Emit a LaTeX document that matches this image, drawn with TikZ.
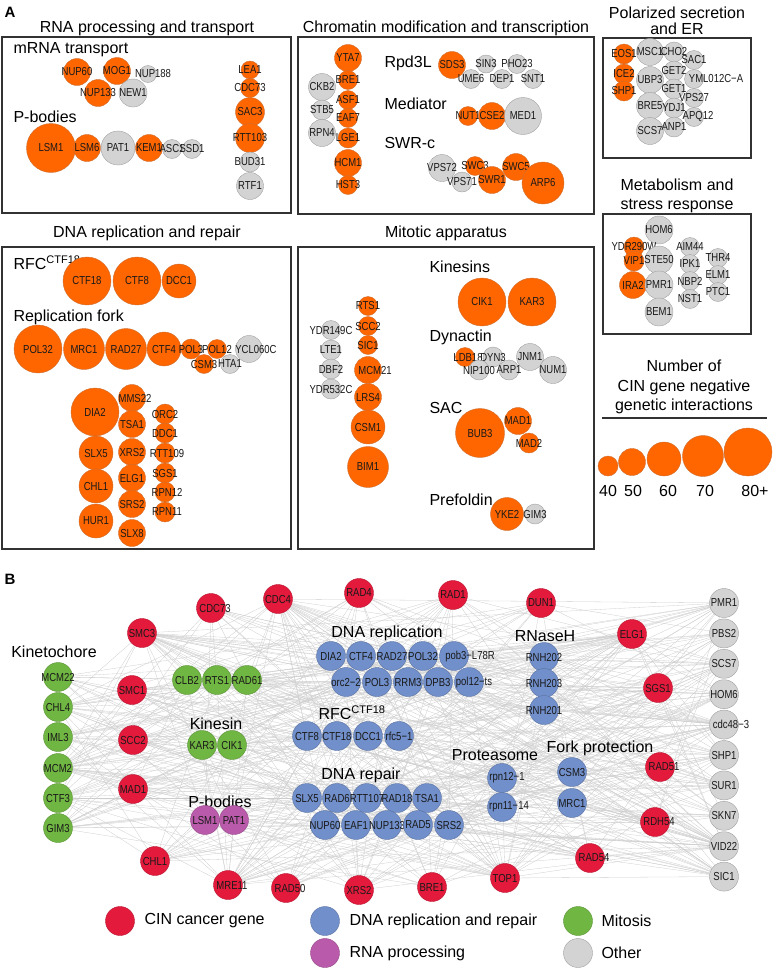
\documentclass[tikz,border=0pt]{standalone}
\usepackage{fontspec}
\setmainfont{Liberation Sans}
\newfontfamily\genefont[FakeStretch=0.82]{Liberation Sans}

\pgfdeclarelayer{bg}
\pgfsetlayers{bg,main}

\definecolor{geneorange}{RGB}{255,102,0}
\definecolor{orangeedge}{RGB}{205,110,50}
\definecolor{genegrey}{RGB}{211,211,211}
\definecolor{greyedge}{RGB}{160,160,160}
\definecolor{cinred}{RGB}{228,26,60}
\definecolor{dnablue}{RGB}{113,143,202}
\definecolor{mitgreen}{RGB}{112,182,66}
\definecolor{rnapink}{RGB}{186,90,170}
\definecolor{boxgrey}{RGB}{50,50,50}
\definecolor{linkgrey}{RGB}{205,205,205}

% text slid sideways
\newcommand{\lblshift}[2]{\hspace*{#1}#2}

\tikzset{
	% labels sit in a zero-width box so the circle keeps its size
	gene/.style={circle, inner sep=0pt, line width=0.4pt, text=black!90, font=\genefont\fontsize{11.6}{11.6}\selectfont,
		execute at begin node={\hbox to 0pt\bgroup\hss}, execute at end node={\hss\egroup}},
	ora/.style={gene, fill=geneorange, draw=orangeedge},
	gry/.style={gene, fill=genegrey, draw=greyedge},
	bnode/.style={gene, minimum size=29},
	cin/.style={bnode, fill=cinred, draw=cinred!80!black},
	dna/.style={bnode, fill=dnablue, draw=dnablue!80!black},
	mit/.style={bnode, fill=mitgreen, draw=mitgreen!80!black},
	rnap/.style={bnode, fill=rnapink, draw=rnapink!80!black},
	oth/.style={bnode, fill=genegrey, draw=greyedge},
	link/.style={draw=linkgrey, line width=0.3pt},
	box/.style={draw=boxgrey, line width=1.2pt},
	ttl/.style={font=\fontsize{16}{18}\selectfont},
}

\begin{document}
\begin{tikzpicture}[x=1pt, y=-1pt]
	\useasboundingbox (0,0) rectangle (774,970);
	% Panel letters
	\node[anchor=west, font=\bfseries\fontsize{15}{15}\selectfont] (pana) at (1,12) {A};
	\node[anchor=west, font=\bfseries\fontsize{15}{15}\selectfont] (panb) at (1,579) {B};

	% ---------- RNA processing and transport
	\node[ttl] (rnattl) at (147,28) {RNA processing and transport};
	\draw[box] (2,37) rectangle (291,213);
	\node[ttl, anchor=west] (mrnalbl) at (10,50) {mRNA transport};
	\node[ora, minimum size=27] (nup60) at (77,72) {NUP60};
	\node[ora, minimum size=27] (mog1) at (117,71) {MOG1};
	\node[gry, minimum size=17] (nup188) at (148,74) {\lblshift{10pt}{NUP188}};
	\node[ora, minimum size=27] (nup133) at (98,93) {NUP133};
	\node[gry, minimum size=28] (new1) at (133,93) {NEW1};
	\node[ttl, anchor=west] (pbodlbl) at (10,117) {P-bodies};
	\node[ora, minimum size=49] (lsm1) at (51,148) {LSM1};
	\node[ora, minimum size=27] (lsm6) at (87,148) {LSM6};
	\node[gry, minimum size=34] (pat1) at (118,148) {PAT1};
	\node[ora, minimum size=27] (kem1) at (149,148) {KEM1};
	\node[gry, minimum size=19] (asc1) at (172,149) {ASC1};
	\node[gry, minimum size=19] (ssd1) at (192,149) {SSD1};
	\node[ora, minimum size=18] (lea1) at (250,70) {LEA1};
	\node[ora, minimum size=19] (cdc73) at (250,88) {CDC73};
	\node[ora, minimum size=29] (sac3) at (250,112) {SAC3};
	\node[ora, minimum size=29] (rtt103) at (250,138) {RTT103};
	\node[gry, minimum size=20] (bud31) at (250,162) {BUD31};
	\node[gry, minimum size=27] (rtf1) at (250,186) {RTF1};

	% ---------- Chromatin modification and transcription
	\node[ttl] (chrttl) at (446,28) {Chromatin modification and transcription};
	\draw[box] (298,37) rectangle (594,214);
	\node[ora, minimum size=27] (yta7) at (348,58) {YTA7};
	\node[ora, minimum size=19] (bre1) at (348,80) {BRE1};
	\node[ora, minimum size=19] (asf1) at (348,100) {ASF1};
	\node[ora, minimum size=19] (eaf7) at (348,118) {EAF7};
	\node[ora, minimum size=20] (lge1) at (348,138) {LGE1};
	\node[ora, minimum size=27] (hcm1) at (348,163) {HCM1};
	\node[ora, minimum size=19] (hst3) at (348,185) {HST3};
	\node[gry, minimum size=27] (ckb2) at (322,87) {CKB2};
	\node[gry, minimum size=20] (stb5) at (322,110) {STB5};
	\node[gry, minimum size=27] (rpn4) at (322,133) {RPN4};
	\node[ttl, anchor=west] (rpdlbl) at (381,63) {Rpd3L};
	\node[ora, minimum size=27] (sds3) at (452,65) {SDS3};
	\node[gry, minimum size=18] (sin3) at (486,64) {SIN3};
	\node[gry, minimum size=19] (pho23) at (517,64) {PHO23};
	\node[gry, minimum size=19] (ume6) at (471,79) {UME6};
	\node[gry, minimum size=19] (dep1) at (502,79) {DEP1};
	\node[gry, minimum size=19] (snt1) at (533,79) {SNT1};
	\node[ttl, anchor=west] (medlbl) at (381,104) {Mediator};
	\node[ora, minimum size=19] (nut1) at (468,116) {NUT1};
	\node[ora, minimum size=27] (cse2) at (492,116) {CSE2};
	\node[gry, minimum size=37] (med1) at (523,116) {MED1};
	\node[ttl, anchor=west] (swrlbl) at (381,143) {SWR-c};
	\node[gry, minimum size=27] (vps72) at (442,168) {VPS72};
	\node[gry, minimum size=20] (vps71) at (462,182) {VPS71};
	\node[ora, minimum size=19] (swc3) at (475,166) {SWC3};
	\node[ora, minimum size=27] (swr1) at (492,180) {SWR1};
	\node[ora, minimum size=27] (swc5) at (516,167) {SWC5};
	\node[ora, minimum size=42] (arp6) at (543,183) {ARP6};

	% ---------- Polarized secretion and ER
	\node[ttl, align=center, font=\fontsize{16}{16}\selectfont] (polttl) at (677,21) {Polarized secretion\\and ER};
	\draw[box] (603,38) rectangle (751,158);
	\node[ora, minimum size=20] (eos1) at (624,54) {EOS1};
	\node[ora, minimum size=20] (ice2) at (624,74) {ICE2};
	\node[ora, minimum size=20] (shp1) at (624,91) {SHP1};
	\node[gry, minimum size=27] (msc1) at (650,52) {MSC1};
	\node[gry, minimum size=27] (ubp3) at (650,80) {UBP3};
	\node[gry, minimum size=27] (bre5) at (650,106) {BRE5};
	\node[gry, minimum size=27] (scs7) at (650,131) {SCS7};
	\node[gry, minimum size=20] (cho2) at (674,52) {CHO2};
	\node[gry, minimum size=20] (get2) at (674,71) {GET2};
	\node[gry, minimum size=20] (get1) at (674,89) {GET1};
	\node[gry, minimum size=20] (ydj1) at (674,108) {YDJ1};
	\node[gry, minimum size=20] (anp1) at (674,127) {ANP1};
	\node[gry, minimum size=19] (sac1) at (694,60) {SAC1};
	\node[gry, minimum size=19] (yml012c) at (694,79) {\lblshift{44pt}{YML012C−A}};
	\node[gry, minimum size=19] (vps27) at (694,98) {VPS27};
	\node[gry, minimum size=19] (apq12) at (694,117) {\lblshift{8pt}{APQ12}};

	% ---------- Metabolism and stress response
	\node[ttl, align=center, font=\fontsize{16}{19}\selectfont] (metttl) at (677,196) {Metabolism and\\stress response};
	\draw[box] (603,214) rectangle (751,334);
	\node[gry, minimum size=28] (hom6) at (659,230) {HOM6};
	\node[ora, minimum size=20] (ydr290w) at (634,247) {YDR290W};
	\node[gry, minimum size=28] (ste50) at (659,260) {STE50};
	\node[ora, minimum size=20] (vip1) at (634,261) {VIP1};
	\node[ora, minimum size=27] (ira2) at (633,285) {IRA2};
	\node[gry, minimum size=28] (pmr1) at (659,285) {PMR1};
	\node[gry, minimum size=28] (bem1) at (659,312) {BEM1};
	\node[gry, minimum size=19] (aim44) at (690,247) {AIM44};
	\node[gry, minimum size=19] (ipk1) at (690,264) {IPK1};
	\node[gry, minimum size=19] (nbp2) at (690,281) {NBP2};
	\node[gry, minimum size=19] (nst1) at (690,299) {NST1};
	\node[gry, minimum size=19] (thr4) at (718,258) {THR4};
	\node[gry, minimum size=19] (elm1) at (718,275) {ELM1};
	\node[gry, minimum size=19] (ptc1) at (718,292) {PTC1};

	% ---------- size legend
	\node[ttl, align=center, font=\fontsize{16}{19.5}\selectfont] (numttl) at (684,387) {Number of\\CIN gene negative\\genetic interactions};
	\draw[line width=1.2pt, boxgrey] (602,418) -- (767,418);
	\node[ora, minimum size=20] (sz40) at (608,466) {};
	\node[ora, minimum size=27] (sz50) at (632,462) {};
	\node[ora, minimum size=34] (sz60) at (664,459) {};
	\node[ora, minimum size=41] (sz70) at (703,456) {};
	\node[ora, minimum size=48] (sz80) at (748,452) {};
	\node[ttl] (n40) at (608,491) {40};
	\node[ttl] (n50) at (633,491) {50};
	\node[ttl] (n60) at (668,491) {60};
	\node[ttl] (n70) at (705,491) {70};
	\node[ttl] (n80) at (755,491) {80+};

	% ---------- DNA replication and repair
	\node[ttl] (dnattl) at (147,233) {DNA replication and repair};
	\draw[box] (2,247) rectangle (291,549);
	\node[ttl, anchor=west] (rfclbl) at (10,263) {RFC\raisebox{6pt}{\fontsize{11}{11}\selectfont CTF18}};
	\node[ora, minimum size=48] (ctf18) at (87,281) {CTF18};
	\node[ora, minimum size=48] (ctf8) at (137,281) {CTF8};
	\node[ora, minimum size=34] (dcc1) at (179,281) {DCC1};
	\node[ttl, anchor=west] (forklbl) at (10,317) {Replication fork};
	\node[ora, minimum size=48] (pol32) at (38,349) {POL32};
	\node[ora, minimum size=41] (mrc1) at (84,349) {MRC1};
	\node[ora, minimum size=41] (rad27) at (126,349) {RAD27};
	\node[ora, minimum size=34] (ctf4) at (164,349) {CTF4};
	\node[gry, minimum size=27] (ycl060c) at (249,349) {\lblshift{14pt}{YCL060C}};
	\node[ora, minimum size=19] (csm3) at (204,364) {CSM3};
	\node[gry, minimum size=19] (hta1) at (230,364) {HTA1};
	\node[ora, minimum size=20] (pol3) at (191,349) {POL3};
	\node[ora, minimum size=19] (pol12) at (217,349) {POL12};
	\node[ora, minimum size=48] (dia2) at (95,412) {DIA2};
	\node[ora, minimum size=34] (slx5) at (96,453) {SLX5};
	\node[ora, minimum size=34] (chl1) at (96,486) {CHL1};
	\node[ora, minimum size=34] (hur1) at (96,521) {HUR1};
	\node[ora, minimum size=27] (mms22) at (132,398) {\lblshift{6pt}{MMS22}};
	\node[ora, minimum size=27] (tsa1) at (132,424) {TSA1};
	\node[ora, minimum size=27] (xrs2) at (132,452) {XRS2};
	\node[ora, minimum size=27] (elg1) at (132,478) {ELG1};
	\node[ora, minimum size=27] (srs2) at (132,504) {SRS2};
	\node[ora, minimum size=27] (slx8) at (132,533) {SLX8};
	\node[ora, minimum size=20] (orc2) at (165,414) {ORC2};
	\node[ora, minimum size=20] (ddc1) at (165,433) {DDC1};
	\node[ora, minimum size=20] (rtt109) at (165,453) {\lblshift{4pt}{RTT109}};
	\node[ora, minimum size=20] (sgs1) at (165,473) {SGS1};
	\node[ora, minimum size=20] (rpn12) at (165,492) {\lblshift{4pt}{RPN12}};
	\node[ora, minimum size=20] (rpn11) at (165,512) {\lblshift{4pt}{RPN11}};

	% ---------- Mitotic apparatus
	\node[ttl] (mitttl) at (446,233) {Mitotic apparatus};
	\draw[box] (298,247) rectangle (594,549);
	\node[ora, minimum size=19] (rts1) at (368,306) {RTS1};
	\node[ora, minimum size=19] (scc2) at (368,326) {SCC2};
	\node[ora, minimum size=19] (sic1) at (368,345) {SIC1};
	\node[ora, minimum size=27] (mcm21) at (368,370) {\lblshift{14pt}{MCM21}};
	\node[ora, minimum size=27] (lrs4) at (368,397) {LRS4};
	\node[ora, minimum size=34] (csm1) at (368,427) {CSM1};
	\node[ora, minimum size=41] (bim1) at (368,467) {BIM1};
	\node[gry, minimum size=19] (ydr149c) at (331,330) {YDR149C};
	\node[gry, minimum size=20] (lte1) at (331,350) {LTE1};
	\node[gry, minimum size=20] (dbf2) at (331,369) {DBF2};
	\node[gry, minimum size=20] (ydr532c) at (331,389) {YDR532C};
	\node[ttl, anchor=west] (kinslbl) at (426,267) {Kinesins};
	\node[ora, minimum size=48] (cik1) at (482,302) {CIK1};
	\node[ora, minimum size=48] (kar3) at (532,302) {KAR3};
	\node[ttl, anchor=west] (dynlbl) at (426,337) {Dynactin};
	\node[gry, minimum size=20] (dyn3) at (493,357) {DYN3};
	\node[ora, minimum size=19] (ldb18) at (465,357) {\lblshift{6pt}{LDB18}};
	\node[gry, minimum size=27] (jnm1) at (530,357) {JNM1};
	\node[gry, minimum size=20] (nip100) at (479,370) {NIP100};
	\node[gry, minimum size=20] (arp1) at (509,370) {ARP1};
	\node[gry, minimum size=27] (num1) at (553,370) {NUM1};
	\node[ttl, anchor=west] (saclbl) at (426,408) {SAC};
	\node[ora, minimum size=49] (bub3) at (480,433) {BUB3};
	\node[ora, minimum size=27] (mad1) at (518,421) {MAD1};
	\node[ora, minimum size=20] (mad2) at (529,443) {MAD2};
	\node[ttl, anchor=west] (preflbl) at (426,500) {Prefoldin};
	\node[ora, minimum size=33] (yke2) at (507,514) {YKE2};
	\node[gry, minimum size=20] (gim3) at (535,514) {GIM3};

	% ---------- B: group labels
	\node[ttl] (kinetlbl) at (54,652) {Kinetochore};
	\node[ttl] (kinelbl) at (216,724) {Kinesin};
	\node[ttl] (pblbl) at (220,802) {P-bodies};
	\node[ttl] (reptlbl) at (387,633) {DNA replication};
	\node[ttl, anchor=west] (rfcblbl) at (315,713) {RFC\raisebox{6pt}{\fontsize{11}{11}\selectfont CTF18}};
	\node[ttl] (repalbl) at (361,775) {DNA repair};
	\node[ttl] (protlbl) at (495,755) {Proteasome};
	\node[ttl] (rnaslbl) at (545,636) {RNaseH};
	\node[ttl] (forkblbl) at (600,748) {Fork protection};

	% B: CIN cancer genes
	\node[cin] (bcdc73) at (211,608) {\lblshift{8pt}{CDC73}};
	\node[cin] (bsmc3) at (142,633) {SMC3};
	\node[cin] (bsmc1) at (132,690) {SMC1};
	\node[cin] (bscc2) at (133,740) {SCC2};
	\node[cin] (bmad1) at (133,789) {MAD1};
	\node[cin] (bchl1) at (155,861) {CHL1};
	\node[cin] (bmre11) at (228,885) {\lblshift{8pt}{MRE11}};
	\node[cin] (brad50) at (286,888) {\lblshift{8pt}{RAD50}};
	\node[cin] (bxrs2) at (359,890) {XRS2};
	\node[cin] (bbre1) at (432,887) {BRE1};
	\node[cin] (btop1) at (505,878) {TOP1};
	\node[cin] (brad54) at (590,858) {\lblshift{8pt}{RAD54}};
	\node[cin] (brdh54) at (655,822) {\lblshift{8pt}{RDH54}};
	\node[cin] (brad51) at (660,767) {\lblshift{8pt}{RAD51}};
	\node[cin] (bsgs1) at (658,688) {SGS1};
	\node[cin] (belg1) at (632,634) {ELG1};
	\node[cin] (bdun1) at (541,603) {DUN1};
	\node[cin] (brad1) at (453,595) {RAD1};
	\node[cin] (brad4) at (359,593) {RAD4};
	\node[cin] (bcdc4) at (278,599) {CDC4};

	% B: DNA replication and repair
	\node[dna] (bdia2) at (331,656) {DIA2};
	\node[dna] (bctf4) at (361,656) {CTF4};
	\node[dna] (brad27) at (392,656) {RAD27};
	\node[dna] (bpol32) at (423,656) {POL32};
	\node[dna] (bpob3) at (454,656) {\lblshift{32pt}{pob3−L78R}};
	\node[dna] (borc2) at (346,682) {orc2−2};
	\node[dna] (bpol3) at (377,682) {POL3};
	\node[dna] (brrm3) at (408,682) {RRM3};
	\node[dna] (bdpb3) at (438,682) {DPB3};
	\node[dna] (bpol12) at (469,682) {\lblshift{10pt}{pol12−ts}};
	\node[dna] (bctf8) at (307,736) {CTF8};
	\node[dna] (bctf18) at (337,736) {CTF18};
	\node[dna] (bdcc1) at (368,736) {DCC1};
	\node[dna] (brfc5) at (399,736) {rfc5−1};
	\node[dna] (bslx5) at (307,798) {SLX5};
	\node[dna] (brad6) at (337,798) {RAD6};
	\node[dna] (brtt107) at (367,798) {RTT107};
	\node[dna] (brad18) at (397,798) {RAD18};
	\node[dna] (btsa1) at (427,798) {TSA1};
	\node[dna] (bnup60) at (325,825) {NUP60};
	\node[dna] (beaf1) at (356,825) {EAF1};
	\node[dna] (bnup133) at (387,825) {NUP133};
	\node[dna] (brad5) at (418,825) {RAD5};
	\node[dna] (bsrs2) at (449,825) {SRS2};
	\node[dna] (brpn12) at (502,778) {\lblshift{10pt}{rpn12−1}};
	\node[dna] (brpn11) at (502,807) {\lblshift{14pt}{rpn11−14}};
	\node[dna] (brnh202) at (544,657) {RNH202};
	\node[dna] (brnh203) at (544,683) {RNH203};
	\node[dna] (brnh201) at (544,710) {RNH201};
	\node[dna] (bcsm3) at (572,772) {CSM3};
	\node[dna] (bmrc1) at (572,803) {MRC1};

	% B: mitosis
	\node[mit] (bmcm22) at (58,677) {MCM22};
	\node[mit] (bchl4) at (58,707) {CHL4};
	\node[mit] (biml3) at (58,737) {IML3};
	\node[mit] (bmcm2) at (58,768) {MCM2};
	\node[mit] (bctf3) at (58,798) {CTF3};
	\node[mit] (bgim3) at (58,828) {GIM3};
	\node[mit] (bclb2) at (187,680) {CLB2};
	\node[mit] (brts1) at (217,680) {RTS1};
	\node[mit] (brad61) at (247,680) {RAD61};
	\node[mit] (bkar3) at (202,745) {KAR3};
	\node[mit] (bcik1) at (232,745) {CIK1};

	% B: RNA processing
	\node[rnap] (blsm1) at (205,820) {LSM1};
	\node[rnap] (bpat1) at (234,820) {PAT1};

	% B: other
	\foreach \g/\nm [count=\i] in {bpmr1/PMR1, bpbs2/PBS2, bscs7/SCS7, bhom6/HOM6, bcdc48/\lblshift{14pt}{cdc48−3},
		bshp1/SHP1, bsur1/SUR1, bskn7/SKN7, bvid22/VID22, bsic1/SIC1}
		\node[oth] (\g) at (724,{572.6+30.4*\i}) {\nm};

	% B: negative genetic interactions
	\begin{pgfonlayer}{bg}
		\foreach \o [count=\i] in {bcdc73,bsmc3,bsmc1,bscc2,bmad1,bchl1,bmre11,brad50,bxrs2,bbre1,btop1,brad54,
			brdh54,brad51,bsgs1,belg1,bdun1,brad1,brad4,bcdc4,bpmr1,bpbs2,bscs7,bhom6,bcdc48,bshp1,bsur1,
			bskn7,bvid22,bsic1,bmcm22,bchl4,biml3,bmcm2,bctf3,bgim3}{
			\foreach \t [count=\j] in {bdia2,bctf4,brad27,bpol32,bpob3,borc2,bpol3,brrm3,bdpb3,bpol12,bctf8,
				bctf18,bdcc1,brfc5,bslx5,brad6,brtt107,brad18,btsa1,bnup60,beaf1,bnup133,brad5,bsrs2,brpn12,
				brpn11,brnh202,brnh203,brnh201,bcsm3,bmrc1,bclb2,brts1,brad61,bkar3,bcik1,blsm1,bpat1}{
				\pgfmathtruncatemacro\k{mod(\i*\i*3+\j*\j*5+\i*\j,9)}
				\ifnum\k<2 \draw[link] (\o) -- (\t); \fi
			}
		}
		\foreach \o [count=\i] in {bcdc73,bsmc3,bsmc1,bscc2,bmad1,bchl1,bmre11,brad50,bxrs2,bbre1,btop1,brad54,
			brdh54,brad51,bsgs1,belg1,bdun1,brad1,brad4,bcdc4}{
			\foreach \t [count=\j] in {bpmr1,bpbs2,bscs7,bhom6,bcdc48,bshp1,bsur1,bskn7,bvid22,bsic1,
				bmcm22,bchl4,biml3,bmcm2,bctf3,bgim3}{
				\pgfmathtruncatemacro\k{mod(\i*\i*7+\j*\j*2+\i*\j*3,9)}
				\ifnum\k<2 \draw[link] (\o) -- (\t); \fi
			}
		}
	\end{pgfonlayer}

	% B: legend
	\node[cin] (legcin) at (120,921) {};
	\node[ttl, anchor=west] (legcint) at (141,921) {CIN cancer gene};
	\node[dna] (legdna) at (325,921) {};
	\node[ttl, anchor=west] (legdnat) at (346,921) {DNA replication and repair};
	\node[mit] (legmit) at (578,921) {};
	\node[ttl, anchor=west] (legmitt) at (598,921) {Mitosis};
	\node[rnap] (legrna) at (325,953) {};
	\node[ttl, anchor=west] (legrnat) at (346,953) {RNA processing};
	\node[oth] (legoth) at (578,953) {};
	\node[ttl, anchor=west] (legotht) at (598,953) {Other};
\end{tikzpicture}
\end{document}
